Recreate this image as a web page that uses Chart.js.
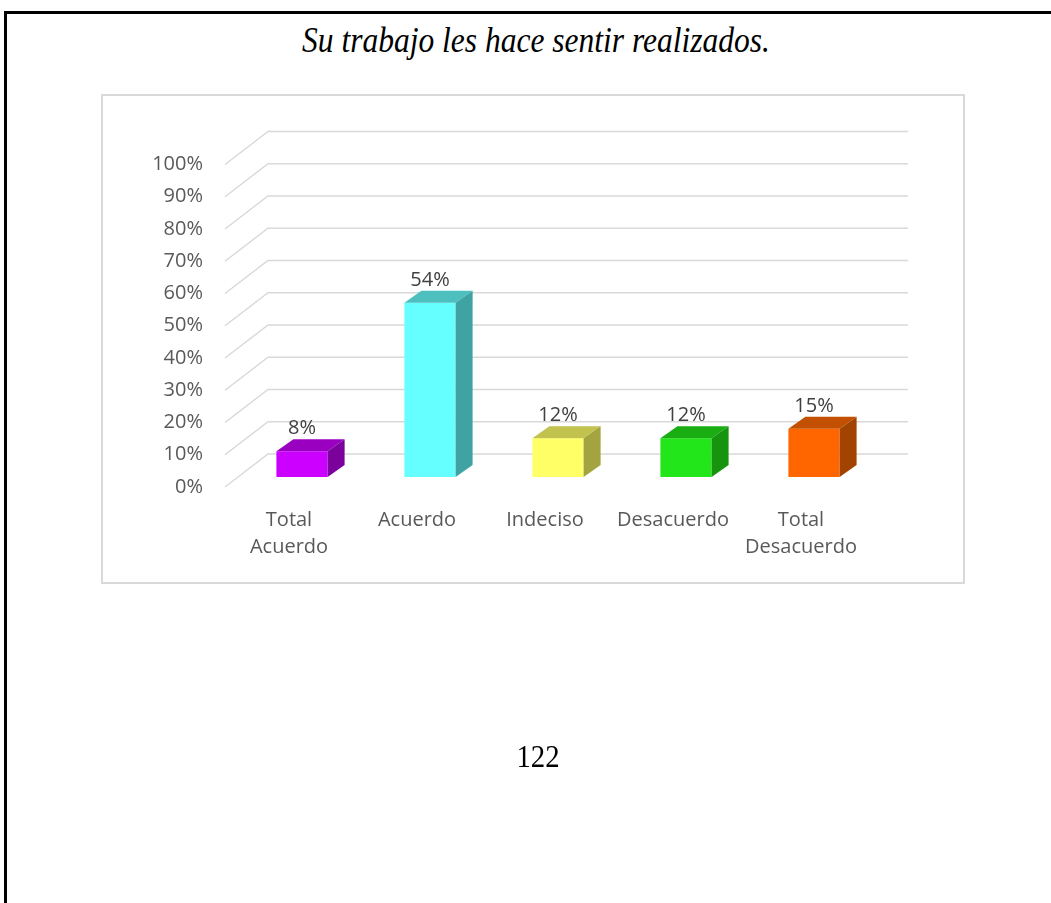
<!DOCTYPE html>
<html lang="es">
<head>
<meta charset="utf-8">
<title>Su trabajo les hace sentir realizados.</title>
<script src="https://cdn.jsdelivr.net/npm/chart.js@4.4.1/dist/chart.umd.min.js"></script>
<style>
  html, body { margin: 0; padding: 0; width: 1051px; height: 903px; overflow: hidden; background: #fff; }
  .marco { position: absolute; left: 4px; top: 11px; width: 1100px; height: 1000px;
           border-left: 3px solid #000; border-top: 3px solid #000; }
  .titulo { position: absolute; left: 0; top: 21px; width: 1072px; text-align: center;
            font: italic 35px/40px 'Liberation Serif', 'Times New Roman', serif; color: #000;
            transform: scaleX(0.9); transform-origin: 536px 0; }
  .caja { position: absolute; left: 101px; top: 94px; width: 864px; height: 490px;
          border: 2px solid #d9d9d9; box-sizing: border-box; }
  .folio { position: absolute; left: 0; top: 738px; width: 1076px; text-align: center;
           font: 32px/36px 'Liberation Serif', 'Times New Roman', serif; color: #000;
           transform: scaleX(0.9); transform-origin: 538px 0; }
  #grafico { position: absolute; left: 0; top: 0; }
</style>
</head>
<body>
<div class="marco"></div>
<div class="titulo">Su trabajo les hace sentir realizados.</div>
<div class="caja"></div>
<canvas id="grafico" width="1051" height="903"></canvas>
<div class="folio">122</div>

<script>
// Categorías de respuesta y porcentaje obtenido en cada una
const categorias = [['Total', 'Acuerdo'], 'Acuerdo', 'Indeciso', 'Desacuerdo', ['Total', 'Desacuerdo']];
const porcentajes = [8, 54, 12, 12, 15];
const marcasEje = [0, 10, 20, 30, 40, 50, 60, 70, 80, 90, 100];

// Colores de cada barra: cara frontal, tapa superior y lateral
const coloresFrente = ['#CC00FF', '#66FFFF', '#FFFF66', '#22E61A', '#FF6600'];
const coloresTapa   = ['#9A00C0', '#4DBFBF', '#C2C24F', '#1AAD12', '#C25000'];
const coloresLado   = ['#7C009C', '#40A3A3', '#A3A340', '#16940E', '#A34300'];

// Desplazamientos de la perspectiva respecto al plano frontal de las barras
const FRENTE = { dx: -13, dy: 10 };   // borde delantero de la pared lateral
const FONDO  = { dx: 30,  dy: -23 };  // pared del fondo
const PROF   = { dx: 17,  dy: -12 };  // profundidad de cada barra

const efecto3D = {
  id: 'efecto3D',
  beforeDatasetsDraw(chart) {
    const { ctx, chartArea: a, scales: { y } } = chart;
    ctx.save();
    ctx.strokeStyle = '#d9d9d9';
    ctx.lineWidth = 1.5;
    y.ticks.forEach(t => {
      const py = y.getPixelForValue(t.value);
      ctx.beginPath();
      ctx.moveTo(a.left + FRENTE.dx, py + FRENTE.dy);
      ctx.lineTo(a.left + FONDO.dx, py + FONDO.dy);
      ctx.lineTo(a.right + FONDO.dx, py + FONDO.dy);
      ctx.stroke();
    });
    ctx.restore();
  },
  afterDatasetsDraw(chart) {
    const { ctx } = chart;
    const meta = chart.getDatasetMeta(0);
    ctx.save();
    meta.data.forEach((bar, i) => {
      const { x, y, base, width } = bar.getProps(['x', 'y', 'base', 'width'], true);
      const l = x - width / 2, r = x + width / 2;
      // tapa superior
      ctx.fillStyle = coloresTapa[i];
      ctx.beginPath();
      ctx.moveTo(l, y);
      ctx.lineTo(r, y);
      ctx.lineTo(r + PROF.dx, y + PROF.dy);
      ctx.lineTo(l + PROF.dx, y + PROF.dy);
      ctx.closePath();
      ctx.fill();
      // cara lateral
      ctx.fillStyle = coloresLado[i];
      ctx.beginPath();
      ctx.moveTo(r, y);
      ctx.lineTo(r + PROF.dx, y + PROF.dy);
      ctx.lineTo(r + PROF.dx, base + PROF.dy);
      ctx.lineTo(r, base);
      ctx.closePath();
      ctx.fill();
      // etiqueta de valor
      ctx.fillStyle = '#404040';
      ctx.font = "20px 'Open Sans', sans-serif";
      ctx.textAlign = 'center';
      ctx.textBaseline = 'alphabetic';
      ctx.fillText(porcentajes[i] + '%', x, y + PROF.dy - 5);
    });
    ctx.restore();
  }
};

Chart.defaults.font.family = "'Open Sans', sans-serif";

new Chart(document.getElementById('grafico'), {
  type: 'bar',
  data: {
    labels: categorias,
    datasets: [{
      data: porcentajes,
      backgroundColor: coloresFrente,
      borderWidth: 0,
      barPercentage: 0.4,
      categoryPercentage: 1
    }]
  },
  plugins: [efecto3D],
  options: {
    responsive: false,
    devicePixelRatio: 1,
    animation: false,
    layout: { padding: { left: 138, right: 173, top: 154.5, bottom: 326 } },
    plugins: { legend: { display: false }, tooltip: { enabled: false }, title: { display: false } },
    scales: {
      x: {
        grid: { display: false, drawTicks: false },
        border: { display: false },
        ticks: {
          color: '#595959', font: { size: 20, lineHeight: 1.35 },
          padding: 29.5, labelOffset: FRENTE.dx, maxRotation: 0, autoSkip: false
        },
        afterFit(s) { s.height = 100; }
      },
      y: {
        min: 0, max: 100,
        grid: { display: false, drawTicks: false },
        border: { display: false },
        afterBuildTicks(s) { s.ticks = marcasEje.map(v => ({ value: v })); },
        ticks: {
          color: '#595959', font: { size: 20 },
          padding: 35, labelOffset: FRENTE.dy,
          callback: v => v + '%'
        },
        afterFit(s) { s.width = 100; }
      }
    }
  }
});
</script>
</body>
</html>
